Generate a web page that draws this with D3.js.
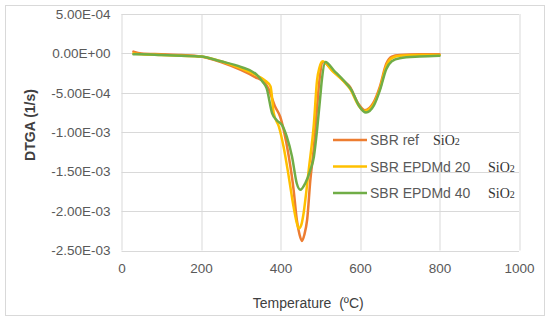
<!DOCTYPE html>
<html>
<head>
<meta charset="utf-8">
<script src="https://cdn.jsdelivr.net/npm/d3@7"></script>
<style>
  body { margin: 0; background: #fff; }
  svg { display: block; }
</style>
</head>
<body>
<svg width="550" height="322"></svg>
<script>
// series names as in the legend
const seriesNames = ["SBR ref", "SBR EPDMd 20", "SBR EPDMd 40"];
const seriesColors = ["#ED7D31", "#FFC000", "#70AD47"];

// temperature (ºC) and DTGA (1/s)
const tempRef = [30, 50, 100, 150, 200, 250, 300, 336, 360, 369, 387, 399, 408, 421, 433, 441, 448, 454, 460, 467, 475, 484, 492, 498, 507, 530, 557, 574, 595, 612, 633, 650, 666, 680, 700, 750, 800];
const dtgaRef = [0.000023, 0.0000, -0.00001, -0.00002, -0.00004, -0.00011, -0.00021, -0.0003, -0.00037, -0.00044, -0.00068, -0.0008, -0.00097, -0.00131, -0.00173, -0.00211, -0.0023, -0.00238, -0.0023, -0.00211, -0.00161, -0.00119, -0.00068, -0.00034, -0.00011, -0.00021, -0.00034, -0.00042, -0.00063, -0.00072, -0.00063, -0.00042, -0.00013, -0.00004, -0.00002, -0.00001, -0.00001];

const temp20 = [30, 50, 100, 150, 200, 250, 300, 336, 360, 375, 383, 396, 408, 421, 433, 440, 446, 452, 458, 465, 471, 484, 492, 498, 506, 530, 558, 575, 595, 610, 632, 650, 666, 680, 700, 750, 800];
const dtga20 = [0.0, -0.00001, -0.00002, -0.00003, -0.00004, -0.0001, -0.00019, -0.00027, -0.00034, -0.00042, -0.00076, -0.00093, -0.00119, -0.00157, -0.00195, -0.00213, -0.00222, -0.00218, -0.00203, -0.00175, -0.00148, -0.00089, -0.00034, -0.00018, -0.0001, -0.00022, -0.00035, -0.00045, -0.00065, -0.00073, -0.00066, -0.00045, -0.00016, -0.00006, -0.00003, -0.00002, -0.00002];

const temp40 = [30, 50, 100, 150, 200, 250, 300, 340, 355, 365, 379, 391, 404, 416, 429, 441, 450, 462, 475, 484, 492, 500, 504, 513, 535, 562, 578, 597, 615, 635, 650, 666, 680, 700, 750, 800];
const dtga40 = [-0.00001, -0.00001, -0.00002, -0.00003, -0.00004, -0.0001, -0.00017, -0.00027, -0.00036, -0.00044, -0.00076, -0.00085, -0.00091, -0.00106, -0.00131, -0.00165, -0.00173, -0.00165, -0.00148, -0.00131, -0.00097, -0.00055, -0.00034, -0.00011, -0.00022, -0.00036, -0.00046, -0.00066, -0.00075, -0.00066, -0.00047, -0.0002, -0.0001, -0.00006, -0.00004, -0.00003];

// axis ticks
const xTicks = [0, 200, 400, 600, 800, 1000];
const yTicks = [0.0005, 0, -0.0005, -0.001, -0.0015, -0.002, -0.0025];

const svg = d3.select("svg");
const margin = { top: 14, right: 31, bottom: 71.5, left: 121.5 };
const width = +svg.attr("width");
const height = +svg.attr("height");
const innerWidth = width - margin.left - margin.right;
const innerHeight = height - margin.top - margin.bottom;

// outer chart border
svg.append("rect")
  .attr("x", 5.5).attr("y", 5.5)
  .attr("width", 539).attr("height", 310)
  .attr("fill", "#fff")
  .attr("stroke", "#D9D9D9");

const xScale = d3.scaleLinear().domain([0, 1000]).range([0, innerWidth]);
const yScale = d3.scaleLinear().domain([-0.0025, 0.0005]).range([innerHeight, 0]);

const g = svg.append("g")
  .attr("transform", `translate(${margin.left},${margin.top})`);

// Excel style scientific labels like 5.00E-04
const sciFormat = (v) => {
  if (v === 0) return "0.00E+00";
  const s = v.toExponential(2).toUpperCase();
  return s.replace(/E([+-])(\d)$/, "E$10$2");
};

// gridlines
g.append("g")
  .selectAll("line")
  .data(yTicks)
  .join("line")
  .attr("x1", 0).attr("x2", innerWidth)
  .attr("y1", (d) => Math.round(yScale(d)) + 0.5)
  .attr("y2", (d) => Math.round(yScale(d)) + 0.5)
  .attr("stroke", "#D9D9D9");
g.append("g")
  .selectAll("line")
  .data(xTicks)
  .join("line")
  .attr("y1", 0).attr("y2", innerHeight)
  .attr("x1", (d) => Math.round(xScale(d)) + 0.5)
  .attr("x2", (d) => Math.round(xScale(d)) + 0.5)
  .attr("stroke", "#D9D9D9");

// axes (labels only, Excel has no tick marks here)
const xAxis = d3.axisBottom(xScale).tickValues(xTicks).tickSize(0).tickPadding(13).tickFormat(d3.format("d"));
const yAxis = d3.axisLeft(yScale).tickValues(yTicks).tickSize(0).tickPadding(11).tickFormat(sciFormat);

g.append("g")
  .attr("transform", `translate(0,${innerHeight})`)
  .call(xAxis)
  .call((a) => a.select(".domain").remove())
  .selectAll("text")
  .attr("font-family", "Liberation Sans, Arial, sans-serif")
  .attr("font-size", "13.5px")
  .attr("fill", "#595959");

g.append("g")
  .call(yAxis)
  .call((a) => a.select(".domain").remove())
  .selectAll("text")
  .attr("font-family", "Liberation Sans, Arial, sans-serif")
  .attr("font-size", "13.5px")
  .attr("fill", "#595959");

// axis titles
svg.append("text")
  .attr("x", margin.left + innerWidth / 2 - 12)
  .attr("y", 308)
  .attr("text-anchor", "middle")
  .attr("font-family", "Liberation Sans, Arial, sans-serif")
  .attr("font-size", "14px")
  .attr("fill", "#404040")
  .text("Temperature\u00a0 (ºC)");

svg.append("text")
  .attr("transform", "translate(35,125) rotate(-90)")
  .attr("text-anchor", "middle")
  .attr("font-family", "Liberation Sans, Arial, sans-serif")
  .attr("font-size", "14px")
  .attr("font-weight", "bold")
  .attr("fill", "#404040")
  .text("DTGA (1/s)");

// curves
const series = [
  { t: tempRef, v: dtgaRef },
  { t: temp20, v: dtga20 },
  { t: temp40, v: dtga40 },
];
const line = d3.line()
  .x((d) => xScale(d[0]))
  .y((d) => yScale(d[1]))
  .curve(d3.curveMonotoneX);

series.forEach((s, i) => {
  g.append("path")
    .datum(s.t.map((t, j) => [t, s.v[j]]))
    .attr("fill", "none")
    .attr("stroke", seriesColors[i])
    .attr("stroke-width", 2.5)
    .attr("stroke-linejoin", "round")
    .attr("stroke-linecap", "round")
    .attr("d", line);
});

// legend
const legendY = [140, 166.5, 193];
const sioX = [433, 488, 488];
const legend = svg.append("g");
seriesNames.forEach((name, i) => {
  legend.append("line")
    .attr("x1", 333).attr("x2", 367)
    .attr("y1", legendY[i]).attr("y2", legendY[i])
    .attr("stroke", seriesColors[i])
    .attr("stroke-width", 2.5);
  legend.append("text")
    .attr("x", 370)
    .attr("y", legendY[i] + 5)
    .attr("font-family", "Liberation Sans, Arial, sans-serif")
    .attr("font-size", "14px")
    .attr("fill", "#595959")
    .text(name);
  const sio = legend.append("text")
    .attr("x", sioX[i])
    .attr("y", legendY[i] + 5)
    .attr("font-family", "Liberation Serif, Times New Roman, serif")
    .attr("font-size", "14px")
    .attr("fill", "#333");
  sio.append("tspan").text("SiO");
  sio.append("tspan").attr("font-size", "10px").text("2");
});
</script>
</body>
</html>
